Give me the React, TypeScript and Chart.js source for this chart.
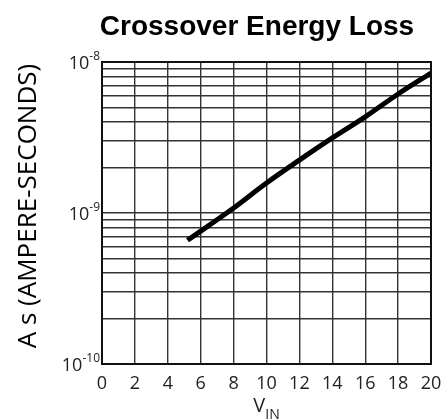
import React, { useEffect, useRef } from "react";
import { Chart, registerables } from "chart.js";

Chart.register(...registerables);

const vin = [5.2, 8, 10, 12, 14, 16, 18, 20];
const loss = [6.6e-10, 1.08e-9, 1.58e-9, 2.24e-9, 3.14e-9, 4.33e-9, 6.14e-9, 8.45e-9];
const xTicks = [0, 2, 4, 6, 8, 10, 12, 14, 16, 18, 20];
const yGrid = [
  1e-10, 2e-10, 3e-10, 4e-10, 5e-10, 6e-10, 7e-10, 8e-10, 9e-10,
  1e-9, 2e-9, 3e-9, 4e-9, 5e-9, 6e-9, 7e-9, 8e-9, 9e-9, 1e-8,
];
const yLabelValues = [1e-10, 1e-9, 1e-8];
const yLabelExps = ["-10", "-9", "-8"];
const titleText = "Crossover Energy Loss";
const yTitle = "A s (AMPERE-SECONDS)";
const xTitleMain = "V";
const xTitleSub = "IN";

const FONT = "'Open Sans', sans-serif";

const textPlugin = {
  id: "textPlugin",
  afterDraw(chart: any) {
    const ctx = chart.ctx;
    const xs = chart.scales.x;
    const ys = chart.scales.y;
    const area = chart.chartArea;
    ctx.save();
    ctx.fillStyle = "#000";
    // title
    ctx.font = "bold 28px 'Liberation Sans', Arial, sans-serif";
    ctx.textAlign = "center";
    ctx.textBaseline = "alphabetic";
    ctx.fillText(titleText, 257, 35);
    // x tick labels
    ctx.font = `18px ${FONT}`;
    ctx.fillStyle = "#222";
    ctx.textAlign = "center";
    ctx.textBaseline = "alphabetic";
    xTicks.forEach((v) => {
      ctx.fillText(String(v), xs.getPixelForValue(v), 389);
    });
    // x title
    ctx.font = `20px ${FONT}`;
    ctx.textAlign = "left";
    const cx = (area.left + area.right) / 2;
    const vW = ctx.measureText(xTitleMain).width;
    ctx.font = `14px ${FONT}`;
    const sW = ctx.measureText(xTitleSub).width;
    const startX = cx - (vW + sW) / 2;
    ctx.font = `20px ${FONT}`;
    ctx.fillText(xTitleMain, startX, 412);
    ctx.font = `14px ${FONT}`;
    ctx.fillText(xTitleSub, startX + vW, 419);
    // y tick labels
    yLabelValues.forEach((v, i) => {
      const py = ys.getPixelForValue(v);
      ctx.font = `12px ${FONT}`;
      const eW = ctx.measureText(yLabelExps[i]).width;
      ctx.textAlign = "right";
      ctx.fillText(yLabelExps[i], area.left - 2, py - 2);
      ctx.font = `18px ${FONT}`;
      ctx.fillText("10", area.left - 2 - eW, py + 7);
    });
    // y title
    ctx.font = `26px ${FONT}`;
    ctx.fillStyle = "#000";
    ctx.translate(29, 206);
    ctx.rotate(-Math.PI / 2);
    ctx.textAlign = "center";
    ctx.textBaseline = "middle";
    ctx.fillText(yTitle, 0, 0);
    ctx.restore();
  },
};

export default function App() {
  const ref = useRef<HTMLCanvasElement>(null);
  useEffect(() => {
    if (!ref.current) return;
    const chart = new Chart(ref.current, {
      type: "line",
      data: {
        datasets: [
          {
            data: vin.map((x, i) => ({ x, y: loss[i] })),
            borderColor: "#000",
            borderWidth: 5,
            pointRadius: 0,
            tension: 0.3,
            cubicInterpolationMode: "monotone",
            fill: false,
          },
        ],
      },
      options: {
        animation: false,
        responsive: false,
        devicePixelRatio: 1,
        layout: { padding: { left: 102, right: 16, top: 62, bottom: 56 } },
        plugins: { legend: { display: false }, title: { display: false }, tooltip: { enabled: false } },
        scales: {
          x: {
            type: "linear",
            min: 0,
            max: 20,
            afterBuildTicks: (s: any) => {
              s.ticks = xTicks.map((v) => ({ value: v }));
            },
            ticks: { display: false },
            grid: { color: "#333", lineWidth: 1.4, drawTicks: false },
            border: { color: "#111", width: 2 },
          },
          y: {
            type: "logarithmic",
            min: 1e-10,
            max: 1e-8,
            afterBuildTicks: (s: any) => {
              s.ticks = yGrid.map((v) => ({ value: v }));
            },
            ticks: { display: false },
            grid: { color: "#333", lineWidth: 1.4, drawTicks: false },
            border: { color: "#111", width: 2 },
          },
        },
      },
      plugins: [
        textPlugin,
        {
          id: "frame",
          afterDatasetsDraw(chart: any) {
            const { ctx, chartArea: a } = chart;
            ctx.save();
            ctx.strokeStyle = "#111";
            ctx.lineWidth = 2;
            ctx.strokeRect(a.left, a.top, a.right - a.left, a.bottom - a.top);
            ctx.restore();
          },
        },
      ],
    } as any);
    return () => chart.destroy();
  }, []);
  return (
    <div style={{ position: "fixed", left: 0, top: 0, width: 447, height: 420, background: "#fff" }}>
      <canvas ref={ref} width={447} height={420} style={{ width: 447, height: 420 }} />
    </div>
  );
}
